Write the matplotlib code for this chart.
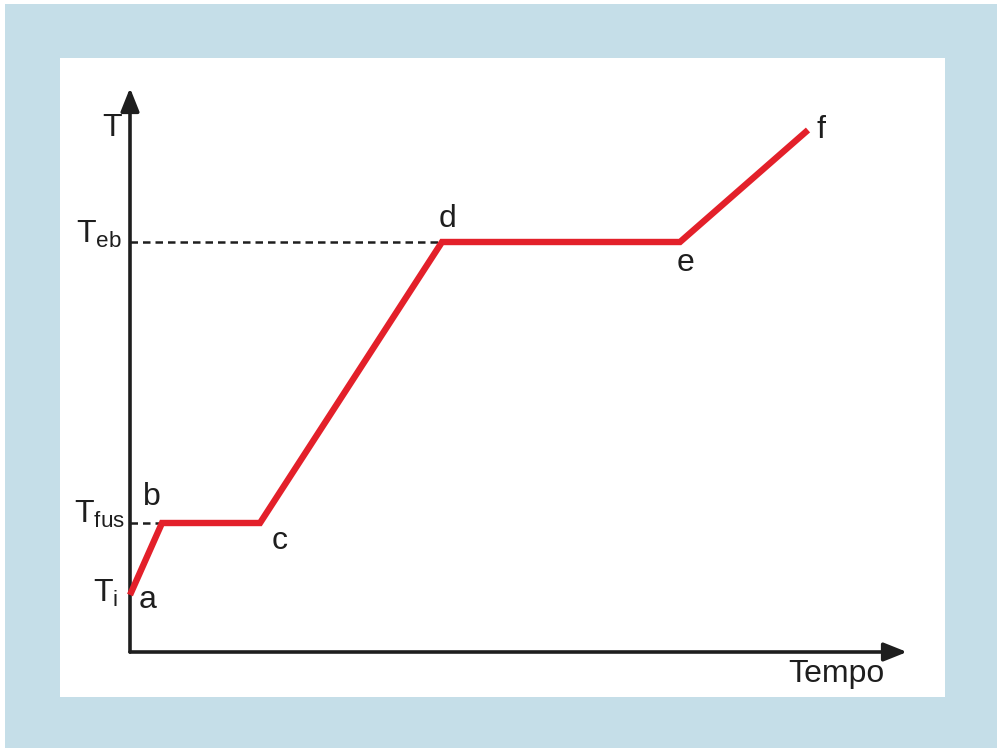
import matplotlib

matplotlib.use("Agg")
import matplotlib.pyplot as plt
from matplotlib.patches import Rectangle

# --- data (arbitrary time / temperature units) ------------------------------
labels = ["a", "b", "c", "d", "e", "f"]
tempo = [0, 32, 130, 312, 550, 678]
temp = [57, 129, 129, 410, 410, 522]
T_i, T_fus, T_eb = 57, 129, 410
label_offsets = [(18, -5), (-10, 26), (20, -18), (5, 23), (5, -21), (13, 0)]  # pixels

BLUE = "#c5dee8"
RED = "#e3202a"
INK = "#1e1e1e"
W, H = 1000, 754

plt.rcParams.update({
    "font.family": ["Liberation Sans", "DejaVu Sans"],
    "mathtext.fontset": "custom",
    "mathtext.rm": "Liberation Sans",
    "mathtext.it": "Liberation Sans",
    "font.size": 23,
})

fig = plt.figure(figsize=(W / 100, H / 100), dpi=100, facecolor="white")


def _box(x0, y0, x1, y1, color):
    fig.patches.append(Rectangle((x0 / W, 1 - y1 / H), (x1 - x0) / W, (y1 - y0) / H,
                                 transform=fig.transFigure, color=color, lw=0, zorder=-5))


_box(5, 4, 997, 748, BLUE)
_box(60, 58, 945, 697, "white")

# axes placed so the origin sits at the reference corner
ax = fig.add_axes([130 / W, 1 - 652 / H, (907 - 130) / W, (652 - 88) / H])
ax.set_zorder(2)
ax.set_xlim(0, 777)
ax.set_ylim(0, 564)
ax.axis("off")

# axes with arrows
arrow = dict(arrowstyle="-|>,head_length=1.0,head_width=0.4", color=INK, lw=2.6,
             mutation_scale=14, shrinkA=0, shrinkB=0)
ax.annotate("", xy=(777, 0), xytext=(0, 0), arrowprops=arrow, annotation_clip=False)
ax.annotate("", xy=(0, 564), xytext=(0, 0), arrowprops=arrow, annotation_clip=False)

# dashed guides
ax.plot([0, tempo[1]], [T_fus, T_fus], ls=(0, (3, 2)), color=INK, lw=1.8)
ax.plot([0, tempo[3]], [T_eb, T_eb], ls=(0, (3, 2)), color=INK, lw=1.8)

# heating curve
ax.plot(tempo, temp, color=RED, lw=4.6, solid_joinstyle="miter", solid_capstyle="butt",
        zorder=3, clip_on=False)

for lab, x, y, (dx, dy) in zip(labels, tempo, temp, label_offsets):
    ax.annotate(lab, xy=(x, y), xytext=(dx, dy), textcoords="offset pixels",
                ha="center", va="center", color=INK)

ax.text(-18, 524, "T", ha="center", va="center", color=INK)
ax.text(-8, T_eb - 1, r"$\mathrm{T_{eb}}$", ha="right", va="baseline", color=INK)
ax.text(-5, T_fus, r"$\mathrm{T_{fus}}$", ha="right", va="baseline", color=INK)
ax.text(-12, T_i - 7, r"$\mathrm{T_{i}}$", ha="right", va="baseline", color=INK)
ax.text(706, -30, "Tempo", ha="center", va="baseline", color=INK)

fig.savefig("out.png", dpi=100, facecolor=fig.get_facecolor())
